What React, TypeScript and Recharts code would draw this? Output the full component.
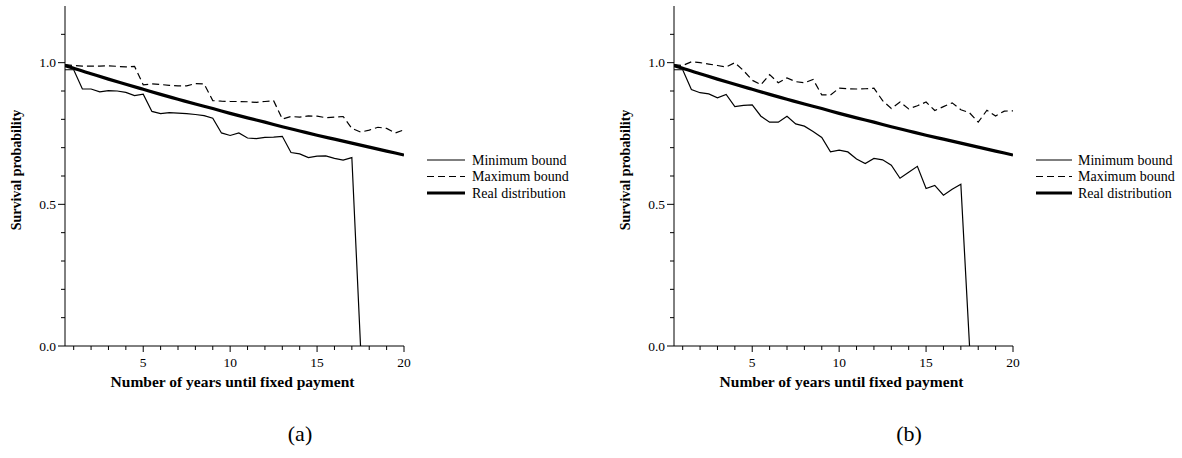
import React from 'react';
import { LineChart, Line, XAxis, YAxis, Legend } from 'recharts';

// time grid of the two bounds (years)
const halfYears = [
  0.5, 1, 1.5, 2, 2.5, 3, 3.5, 4, 4.5, 5, 5.5, 6, 6.5, 7, 7.5, 8, 8.5, 9, 9.5, 10,
  10.5, 11, 11.5, 12, 12.5, 13, 13.5, 14, 14.5, 15, 15.5, 16, 16.5, 17, 17.5, 18, 18.5, 19, 19.5, 20,
];

// real distribution (same in both panels)
const realYears = [0.5, 1, 2, 3, 4, 5, 6, 7, 8, 9, 10, 11, 12, 13, 14, 15, 16, 17, 18, 19, 20];
const realSurvival = [
  0.99, 0.98, 0.961, 0.942, 0.924, 0.906, 0.888, 0.871, 0.854, 0.838, 0.821,
  0.805, 0.79, 0.774, 0.759, 0.744, 0.73, 0.716, 0.702, 0.688, 0.674,
];

// panel (a)
const minBoundA = [
  0.975, 0.975, 0.907, 0.907, 0.897, 0.901, 0.9, 0.895, 0.884, 0.889, 0.828, 0.82, 0.824, 0.822, 0.82,
  0.817, 0.813, 0.804, 0.752, 0.743, 0.752, 0.734, 0.732, 0.736, 0.737, 0.74, 0.683, 0.678, 0.665,
  0.67, 0.671, 0.662, 0.656, 0.665, 0,
];
const maxBoundA = [
  0.993, 0.99, 0.988, 0.988, 0.988, 0.989, 0.987, 0.985, 0.987, 0.922, 0.925, 0.923, 0.92, 0.918,
  0.918, 0.926, 0.925, 0.866, 0.864, 0.863, 0.863, 0.862, 0.86, 0.863, 0.866, 0.801, 0.81, 0.808,
  0.812, 0.811, 0.806, 0.808, 0.81, 0.768, 0.755, 0.762, 0.772, 0.768, 0.752, 0.763,
];

// panel (b)
const minBoundB = [
  0.975, 0.975, 0.905, 0.894, 0.89, 0.876, 0.888, 0.845, 0.849, 0.851, 0.811, 0.79, 0.79, 0.811, 0.784,
  0.776, 0.757, 0.736, 0.685, 0.691, 0.685, 0.66, 0.644, 0.662, 0.657, 0.638, 0.592, 0.613, 0.634,
  0.556, 0.567, 0.532, 0.553, 0.571, 0,
];
const maxBoundB = [
  0.993, 0.99, 1.003, 1.0, 0.995, 0.99, 0.985, 1.0, 0.972, 0.938, 0.922, 0.958, 0.929, 0.946, 0.933,
  0.929, 0.941, 0.886, 0.886, 0.91, 0.908, 0.907, 0.908, 0.91, 0.866, 0.838, 0.861, 0.837, 0.848,
  0.861, 0.831, 0.845, 0.858, 0.834, 0.823, 0.79, 0.832, 0.812, 0.829, 0.83,
];

const yTicks = [0, 0.1, 0.2, 0.3, 0.4, 0.5, 0.6, 0.7, 0.8, 0.9, 1, 1.1];
const yLabels = [0, 0.5, 1];
const xTicks = [1, 2, 3, 4, 5, 6, 7, 8, 9, 10, 11, 12, 13, 14, 15, 16, 17, 18, 19, 20];
const xLabels = [5, 10, 15, 20];

const serif = '"Liberation Serif", "Times New Roman", serif';

const toPoints = (xs: number[], ys: number[]) => ys.map((y, i) => ({ x: xs[i], y }));

const YTick = ({ x, y, payload }: any) => {
  const major = yLabels.includes(payload.value);
  return (
    <g>
      <line x1={x} x2={x - (major ? 7 : 4)} y1={y} y2={y} stroke="#000" strokeWidth={1} />
      {major && (
        <text x={x - 9} y={y} dy={4.5} textAnchor="end" fontSize={13.5} fontFamily={serif} fill="#000">
          {payload.value.toFixed(1)}
        </text>
      )}
    </g>
  );
};

const XTick = ({ x, y, payload }: any) => {
  const major = xLabels.includes(payload.value);
  return (
    <g>
      <line x1={x} x2={x} y1={y} y2={y + (major ? 6 : 4)} stroke="#000" strokeWidth={1} />
      {major && (
        <text x={x} y={y + 21} textAnchor="middle" fontSize={13.5} fontFamily={serif} fill="#000">
          {payload.value}
        </text>
      )}
    </g>
  );
};

const legendRows = [
  { name: 'Minimum bound', width: 1.2, dash: undefined },
  { name: 'Maximum bound', width: 1.2, dash: '7 4' },
  { name: 'Real distribution', width: 3.2, dash: undefined },
];

const LegendBox = ({ lineLen, textX }: { lineLen: number; textX: number }) => (
  <svg width={170} height={56} style={{ display: 'block' }}>
    {legendRows.map((r, i) => {
      const cy = 10 + i * 16.5;
      return (
        <g key={r.name}>
          <line x1={0} x2={lineLen} y1={cy} y2={cy} stroke="#000" strokeWidth={r.width} strokeDasharray={r.dash} />
          <text x={textX} y={cy + 4.5} fontSize={14} fontFamily={serif} fill="#000">
            {r.name}
          </text>
        </g>
      );
    })}
  </svg>
);

function Panel({
  left,
  minBound,
  maxBound,
  caption,
  legendX,
  lineLen,
  textX,
}: {
  left: number;
  minBound: number[];
  maxBound: number[];
  caption: string;
  legendX: number;
  lineLen: number;
  textX: number;
}) {
  return (
    <div style={{ position: 'absolute', left, top: 0, width: 600, height: 458 }}>
      <LineChart width={600} height={458} margin={{ top: 6, right: 196, bottom: 0, left: 0 }}>
        <XAxis
          type="number"
          dataKey="x"
          domain={[0.5, 20]}
          ticks={xTicks}
          allowDataOverflow
          height={112}
          tickSize={0}
          tickMargin={0}
          tickLine={false}
          axisLine={{ stroke: '#000', strokeWidth: 1 }}
          tick={<XTick />}
          interval={0}
          label={{
            content: ({ viewBox }: any) => (
              <text
                x={viewBox.x + viewBox.width / 2 - 2}
                y={viewBox.y + 41}
                textAnchor="middle"
                fontSize={15.5}
                fontWeight="bold"
                fontFamily={serif}
                fill="#000"
              >
                Number of years until fixed payment
              </text>
            ),
          }}
        />
        <YAxis
          type="number"
          domain={[0, 1.2]}
          ticks={yTicks}
          allowDataOverflow
          width={65}
          tickSize={0}
          tickMargin={0}
          tickLine={false}
          axisLine={{ stroke: '#000', strokeWidth: 1 }}
          tick={<YTick />}
          interval={0}
          label={{
            content: ({ viewBox }: any) => {
              const cx = viewBox.x + 21;
              const cy = viewBox.y + viewBox.height / 2 - 6;
              return (
                <text
                  x={cx}
                  y={cy}
                  transform={`rotate(-90 ${cx} ${cy})`}
                  textAnchor="middle"
                  fontSize={14}
                  fontWeight="bold"
                  fontFamily={serif}
                  fill="#000"
                >
                  Survival probability
                </text>
              );
            },
          }}
        />
        <Legend
          layout="vertical"
          align="center"
          verticalAlign="middle"
          wrapperStyle={{ position: 'absolute', left: legendX, top: 150, width: 170, height: 56 }}
          content={() => <LegendBox lineLen={lineLen} textX={textX} />}
        />
        <Line
          data={toPoints(halfYears, minBound)}
          dataKey="y"
          name="Minimum bound"
          type="linear"
          stroke="#000"
          strokeWidth={1.2}
          dot={false}
          activeDot={false}
          isAnimationActive={false}
        />
        <Line
          data={toPoints(halfYears, maxBound)}
          dataKey="y"
          name="Maximum bound"
          type="linear"
          stroke="#000"
          strokeWidth={1.2}
          strokeDasharray="7 4"
          dot={false}
          activeDot={false}
          isAnimationActive={false}
        />
        <Line
          data={toPoints(realYears, realSurvival)}
          dataKey="y"
          name="Real distribution"
          type="monotone"
          stroke="#000"
          strokeWidth={3.2}
          dot={false}
          activeDot={false}
          isAnimationActive={false}
        />
      </LineChart>
      <div
        style={{
          position: 'absolute',
          left: 0,
          width: 600,
          top: 419,
          fontFamily: serif,
          fontSize: 22,
          lineHeight: '30px',
        }}
      >
        <span style={{ position: 'absolute', left: 300, transform: 'translateX(-50%)' }}>{caption}</span>
      </div>
    </div>
  );
}

export default function App() {
  return (
    <div style={{ position: 'absolute', left: 0, top: 0, width: 1182, height: 458, background: '#fff' }}>
      <Panel left={0} minBound={minBoundA} maxBound={maxBoundA} caption="(a)" legendX={427} lineLen={38} textX={45} />
      <Panel left={609} minBound={minBoundB} maxBound={maxBoundB} caption="(b)" legendX={427} lineLen={36} textX={42} />
    </div>
  );
}
